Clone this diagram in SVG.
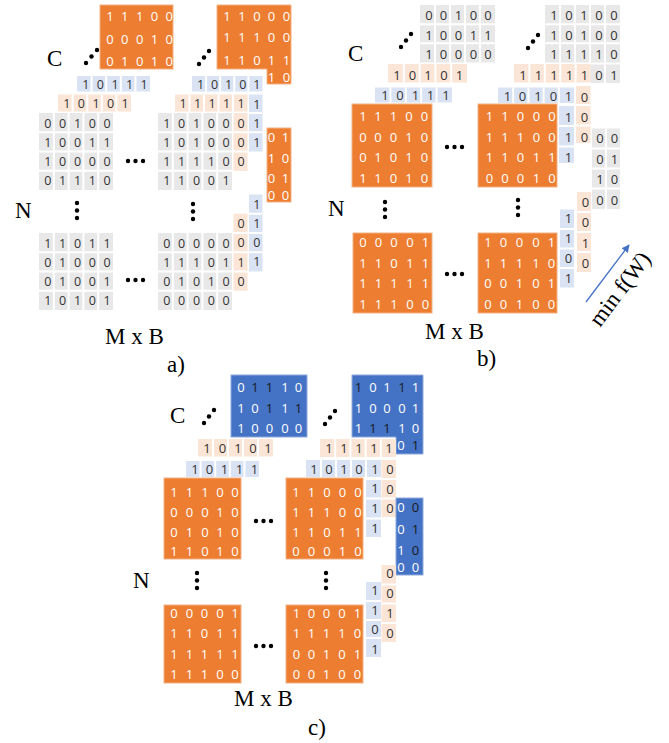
<svg xmlns="http://www.w3.org/2000/svg" width="669" height="743" viewBox="0 0 669 743">
<defs>
<style>
.g{fill:#E8E8E8}.p{fill:#FBE5D6}.b{fill:#DAE3F3}
.o{fill:#ED7D31;stroke:#F4B183;stroke-width:1}
.bl{fill:#4472C4;stroke:#8FAADC;stroke-width:1}
.gp{stroke:#fff;stroke-width:2;fill:none}
.d{font-family:"Open Sans","DejaVu Sans",sans-serif;font-size:12.5px;text-anchor:middle;fill:#333}
.d2{font-family:"Open Sans","DejaVu Sans",sans-serif;font-size:13px;text-anchor:middle;fill:#333}
.t{font-family:"Open Sans","DejaVu Sans",sans-serif;font-size:13px;text-anchor:middle;fill:#fff}
.k{fill:#1a1a1a}
.l{font-family:"Liberation Serif","Times New Roman",serif;font-size:23px;fill:#000}
.dt{fill:#000}
</style>
<marker id="ah" viewBox="0 0 10 10" refX="9" refY="5" markerWidth="6" markerHeight="6" orient="auto">
<path d="M0 0L10 5L0 10z" fill="#4472C4"/>
</marker>
</defs>
<rect width="669" height="743" fill="#fff"/>

<!-- ================= PANEL A ================= -->
<g id="a-labels">
<text class="l" x="47" y="66">C</text>
<text class="l" x="15" y="218">N</text>
<text class="l" x="105" y="344">M x B</text>
<text class="l" x="167" y="372">a)</text>
</g>
<g id="a-dots" class="dt">
<circle cx="86" cy="63" r="2.2"/><circle cx="91.5" cy="56.5" r="2.2"/><circle cx="97" cy="50" r="2.2"/>
<circle cx="199" cy="64" r="2.2"/><circle cx="204" cy="57.5" r="2.2"/><circle cx="209" cy="51" r="2.2"/>
<circle cx="128" cy="161" r="2.2"/><circle cx="135.5" cy="161" r="2.2"/><circle cx="143" cy="161" r="2.2"/>
<circle cx="128" cy="280" r="2.2"/><circle cx="135.5" cy="280" r="2.2"/><circle cx="143" cy="280" r="2.2"/>
<circle cx="77" cy="203" r="2.2"/><circle cx="77" cy="210.5" r="2.2"/><circle cx="77" cy="218" r="2.2"/>
<circle cx="193" cy="204" r="2.2"/><circle cx="193" cy="211.5" r="2.2"/><circle cx="193" cy="219" r="2.2"/>
</g>

<g id="a-orange-top1">
<rect class="o" x="100" y="5" width="73" height="64"/>
<text class="t" x="110 124.8 139.6 154.4 169.2" y="21.2">11100</text>
<text class="t" x="110 124.8 139.6 154.4 169.2" y="43.5">00010</text>
<text class="t" x="110 124.8 139.6 154.4 169.2" y="65.5">01010</text>
</g>
<g id="a-orange-top2">
<path class="o" d="M217 5H291V84H267V69H217Z"/>
<text class="t" x="227 242 257 271.5 286.5" y="20.5">11000</text>
<text class="t" x="227 242 257 271.5 286.5" y="42">11100</text>
<text class="t" x="227 242 257 271.5 286.5" y="64.5">11011</text>
<text class="t" x="271.5 286.5" y="81.5">10</text>
</g>
<g id="a-orange-right">
<rect class="o" x="267" y="128" width="24" height="74"/>
<text class="t" x="271.5 285.5" y="141.5">01</text>
<text class="t" x="271.5 285.5" y="162.5">10</text>
<text class="t" x="271.5 285.5" y="182.5">01</text>
<text class="t" x="271.5 285.5" y="200">00</text>
</g>

<g id="a-blue1">
<rect class="b" x="77" y="76" width="73" height="15.5"/>
<path class="gp" d="M91.6 76v15.5M106.2 76v15.5M120.8 76v15.5M135.4 76v15.5"/>
<text class="d" x="85.8 100.4 115 129.6 144.2" y="88.5">10111</text>
</g>
<g id="a-pink1">
<rect class="p" x="58" y="94.5" width="73" height="17"/>
<path class="gp" d="M72.6 94.5v17M87.2 94.5v17M101.8 94.5v17M116.4 94.5v17"/>
<text class="d" x="66.8 81.4 96 110.6 125.2" y="107.5">10101</text>
</g>
<g id="a-gray1">
<rect class="g" x="39" y="113" width="74" height="77"/>
<path class="gp" d="M53.8 113V190M68.6 113V190M83.4 113V190M98.2 113V190M39 132.25H113M39 151.5H113M39 170.75H113"/>
<text class="d" x="47.9 62.7 77.5 92.3 107.1" y="127.5">00100</text>
<text class="d" x="47.9 62.7 77.5 92.3 107.1" y="146.5">10011</text>
<text class="d" x="47.9 62.7 77.5 92.3 107.1" y="166">10000</text>
<text class="d" x="47.9 62.7 77.5 92.3 107.1" y="185">01110</text>
</g>

<g id="a-blue2">
<rect class="b" x="192" y="76" width="70.5" height="15.5"/>
<path class="gp" d="M206.1 76v15.5M220.2 76v15.5M234.3 76v15.5M248.4 76v15.5"/>
<rect class="b" x="249" y="94.5" width="13.5" height="57"/>
<path class="gp" d="M249 113h13.5M249 132.25h13.5"/>
<text class="d" x="200.5 214.6 228.7 242.8 256.9" y="88.5">10101</text>
<text class="d" x="256.9" y="109">1</text>
<text class="d" x="256.9" y="128">1</text>
<text class="d" x="256.9" y="147">1</text>
</g>
<g id="a-pink2">
<rect class="p" x="175" y="94.5" width="72.5" height="17"/>
<path class="gp" d="M189.5 94.5v17M204 94.5v17M218.5 94.5v17M233 94.5v17"/>
<rect class="p" x="233.5" y="113" width="14" height="58"/>
<path class="gp" d="M233.5 132.25h14M233.5 151.5h14"/>
<text class="d" x="183 197.5 212 226.5 241" y="107.5">11111</text>
<text class="d" x="241" y="127.5">0</text>
<text class="d" x="241" y="146.5">0</text>
<text class="d" x="241" y="166">0</text>
</g>
<g id="a-gray2">
<rect class="g" x="158" y="113" width="74" height="77"/>
<path class="gp" d="M172.8 113V190M187.6 113V190M202.4 113V190M217.2 113V190M158 132.25H232M158 151.5H232M158 170.75H232"/>
<text class="d" x="166.9 181.7 196.5 211.3 226.1" y="127.5">10100</text>
<text class="d" x="166.9 181.7 196.5 211.3 226.1" y="146.5">10100</text>
<text class="d" x="166.9 181.7 196.5 211.3 226.1" y="166">11110</text>
<text class="d" x="166.9 181.7 196.5 211.3 226.1" y="185">11001</text>
</g>

<g id="a-gray3">
<rect class="g" x="39" y="233" width="74" height="77"/>
<path class="gp" d="M53.8 233V310M68.6 233V310M83.4 233V310M98.2 233V310M39 252.25H113M39 271.5H113M39 290.75H113"/>
<text class="d" x="47.9 62.7 77.5 92.3 107.1" y="247.5">11011</text>
<text class="d" x="47.9 62.7 77.5 92.3 107.1" y="266.5">01000</text>
<text class="d" x="47.9 62.7 77.5 92.3 107.1" y="286">01001</text>
<text class="d" x="47.9 62.7 77.5 92.3 107.1" y="305">10101</text>
</g>
<g id="a-blue4">
<rect class="b" x="249" y="194.5" width="13.5" height="77"/>
<path class="gp" d="M249 213.75h13.5M249 233h13.5M249 252.25h13.5"/>
<text class="d" x="256.9" y="208.5">1</text>
<text class="d" x="256.9" y="227.5">1</text>
<text class="d" x="256.9" y="246.5">0</text>
<text class="d" x="256.9" y="265.5">1</text>
</g>
<g id="a-pink4">
<rect class="p" x="233.5" y="213.75" width="14" height="77"/>
<path class="gp" d="M233.5 233h14M233.5 252.25h14M233.5 271.5h14"/>
<text class="d" x="241" y="227.5">0</text>
<text class="d" x="241" y="247">0</text>
<text class="d" x="241" y="266.5">1</text>
<text class="d" x="241" y="286">0</text>
</g>
<g id="a-gray4">
<rect class="g" x="158" y="233" width="74" height="77"/>
<path class="gp" d="M172.8 233V310M187.6 233V310M202.4 233V310M217.2 233V310M158 252.25H232M158 271.5H232M158 290.75H232"/>
<text class="d" x="166.9 181.7 196.5 211.3 226.1" y="247.5">00000</text>
<text class="d" x="166.9 181.7 196.5 211.3 226.1" y="266.5">11101</text>
<text class="d" x="166.9 181.7 196.5 211.3 226.1" y="286">01010</text>
<text class="d" x="166.9 181.7 196.5 211.3 226.1" y="305">00000</text>
</g>

<!-- ================= PANEL B ================= -->
<g id="b-labels">
<text class="l" x="348" y="61">C</text>
<text class="l" x="328" y="216">N</text>
<text class="l" x="425" y="339">M x B</text>
<text class="l" x="477" y="366">b)</text>
<text class="l" font-size="25" transform="translate(600 328) rotate(-53)">min f(W)</text>
</g>
<g id="b-dots" class="dt">
<circle cx="401" cy="47" r="2.2"/><circle cx="406" cy="40.5" r="2.2"/><circle cx="411" cy="34" r="2.2"/>
<circle cx="528" cy="48" r="2.2"/><circle cx="533" cy="41.5" r="2.2"/><circle cx="538" cy="35" r="2.2"/>
<circle cx="447" cy="147" r="2.2"/><circle cx="454.5" cy="147" r="2.2"/><circle cx="462" cy="147" r="2.2"/>
<circle cx="447" cy="274" r="2.2"/><circle cx="454.5" cy="274" r="2.2"/><circle cx="462" cy="274" r="2.2"/>
<circle cx="385" cy="202" r="2.2"/><circle cx="385" cy="209.5" r="2.2"/><circle cx="385" cy="217" r="2.2"/>
<circle cx="518" cy="200" r="2.2"/><circle cx="518" cy="207.5" r="2.2"/><circle cx="518" cy="215" r="2.2"/>
</g>

<g id="b-gray-top1">
<rect class="g" x="420" y="5" width="75" height="57.5"/>
<path class="gp" d="M435 5v57.5M450 5v57.5M465 5v57.5M480 5v57.5M420 24.2h75M420 43.3h75"/>
<text class="d2" x="429 443.5 458.5 473.5 488" y="20">00100</text>
<text class="d2" x="429 443.5 458.5 473.5 488" y="39.5">10011</text>
<text class="d2" x="429 443.5 458.5 473.5 488" y="58.5">10000</text>
</g>
<g id="b-pink1">
<rect class="p" x="388" y="64" width="79" height="18.5"/>
<path class="gp" d="M403.8 64v18.5M419.6 64v18.5M435.4 64v18.5M451.2 64v18.5"/>
<text class="d2" x="397 412.5 428 444 459.5" y="80">10101</text>
</g>
<g id="b-blue1">
<rect class="b" x="375" y="87.5" width="77" height="15"/>
<path class="gp" d="M390.4 87.5v15M405.8 87.5v15M421.2 87.5v15M436.6 87.5v15"/>
<text class="d2" x="385 400 415.5 430.5 446" y="100">10111</text>
</g>
<g id="b-orange1">
<rect class="o" x="352" y="104" width="80" height="83"/>
<text class="t" x="363 378 393.5 409 424.5" y="121">11100</text>
<text class="t" x="363 378 393.5 409 424.5" y="141.5">00010</text>
<text class="t" x="363 378 393.5 409 424.5" y="162">01010</text>
<text class="t" x="363 378 393.5 409 424.5" y="183">11010</text>
</g>

<g id="b-gray-top2">
<rect class="g" x="545" y="5" width="75" height="57.5"/>
<path class="gp" d="M560 5v57.5M575 5v57.5M590 5v57.5M605 5v57.5M545 24.2h75M545 43.3h75"/>
<rect class="g" x="590.5" y="64.5" width="29.5" height="18.5"/>
<path class="gp" d="M605 64.5v18.5"/>
<text class="d2" x="554 569 584 599 614" y="20">10100</text>
<text class="d2" x="554 569 584 599 614" y="39.5">10100</text>
<text class="d2" x="554 569 584 599 614" y="58.5">11110</text>
<text class="d2" x="599 614" y="79.5">01</text>
</g>
<g id="b-pink2">
<rect class="p" x="514" y="64" width="76.5" height="18.5"/>
<path class="gp" d="M529.4 64v18.5M544.8 64v18.5M560.2 64v18.5M575.6 64v18.5"/>
<rect class="p" x="576" y="86" width="14.5" height="57"/>
<path class="gp" d="M576 105h14.5M576 125.5h14.5"/>
<text class="d2" x="523 538.5 554 569.5 584.5" y="79.5">11111</text>
<text class="d2" x="584.5" y="101.5">0</text>
<text class="d2" x="584.5" y="121.5">0</text>
<text class="d2" x="584.5" y="141.5">0</text>
</g>
<g id="b-blue2">
<rect class="b" x="498" y="87.5" width="76" height="15.5"/>
<path class="gp" d="M513.2 87.5v15.5M528.4 87.5v15.5M543.6 87.5v15.5M558.8 87.5v15.5"/>
<rect class="b" x="559" y="106" width="15" height="57"/>
<path class="gp" d="M559 126h15M559 146.5h15"/>
<text class="d2" x="507.5 522.5 538 553.5 568.5" y="101">10101</text>
<text class="d2" x="568.5" y="121.5">1</text>
<text class="d2" x="568.5" y="141.5">1</text>
<text class="d2" x="568.5" y="161.5">1</text>
</g>
<g id="b-orange2">
<rect class="o" x="478" y="104" width="79" height="83"/>
<text class="t" x="489.5 505 520.5 536.5 552" y="121">11000</text>
<text class="t" x="489.5 505 520.5 536.5 552" y="141.5">11100</text>
<text class="t" x="489.5 505 520.5 536.5 552" y="162">11011</text>
<text class="t" x="489.5 505 520.5 536.5 552" y="183">00010</text>
</g>

<g id="b-gray-right">
<rect class="g" x="592" y="128.5" width="28" height="80.5"/>
<path class="gp" d="M606 128.5v80.5M592 148.5h28M592 168.5h28M592 188.5h28"/>
<text class="d2" x="600 614.5" y="143">00</text>
<text class="d2" x="600 614.5" y="163.5">01</text>
<text class="d2" x="600 614.5" y="184">10</text>
<text class="d2" x="600 614.5" y="205">00</text>
</g>
<g id="b-pink4">
<rect class="p" x="577" y="192" width="14" height="80"/>
<path class="gp" d="M577 212h14M577 232h14M577 252h14"/>
<text class="d2" x="585.5" y="206.5">0</text>
<text class="d2" x="585.5" y="226.5">0</text>
<text class="d2" x="585.5" y="247.5">1</text>
<text class="d2" x="585.5" y="267.5">0</text>
</g>
<g id="b-blue4">
<rect class="b" x="560" y="209.5" width="14" height="78"/>
<path class="gp" d="M560 229h14M560 248.5h14M560 268h14"/>
<text class="d2" x="568.5" y="222.5">1</text>
<text class="d2" x="568.5" y="242.5">1</text>
<text class="d2" x="568.5" y="262.5">0</text>
<text class="d2" x="568.5" y="283">1</text>
</g>
<g id="b-orange3">
<rect class="o" x="353" y="233" width="79" height="80"/>
<text class="t" x="363 378.5 394 410 425.5" y="247">00001</text>
<text class="t" x="363 378.5 394 410 425.5" y="267.5">11011</text>
<text class="t" x="363 378.5 394 410 425.5" y="288">11111</text>
<text class="t" x="363 378.5 394 410 425.5" y="308.5">11100</text>
</g>
<g id="b-orange4">
<rect class="o" x="478" y="233" width="79" height="80"/>
<text class="t" x="488 503.5 519.5 536 551.5" y="247">10001</text>
<text class="t" x="488 503.5 519.5 536 551.5" y="267.5">11110</text>
<text class="t" x="488 503.5 519.5 536 551.5" y="288">00101</text>
<text class="t" x="488 503.5 519.5 536 551.5" y="308.5">00100</text>
</g>

<!-- ================= PANEL C ================= -->
<g id="c-labels">
<text class="l" x="170" y="423">C</text>
<text class="l" x="133" y="588">N</text>
<text class="l" x="234" y="706">M x B</text>
<text class="l" x="308" y="735">c)</text>
</g>
<g id="c-dots" class="dt">
<circle cx="204" cy="423" r="2.2"/><circle cx="209" cy="416.5" r="2.2"/><circle cx="214" cy="410" r="2.2"/>
<circle cx="325" cy="424" r="2.2"/><circle cx="330" cy="417.5" r="2.2"/><circle cx="335" cy="411" r="2.2"/>
<circle cx="256" cy="521" r="2.2"/><circle cx="263.5" cy="521" r="2.2"/><circle cx="271" cy="521" r="2.2"/>
<circle cx="256" cy="646" r="2.2"/><circle cx="263.5" cy="646" r="2.2"/><circle cx="271" cy="646" r="2.2"/>
<circle cx="197" cy="573" r="2.2"/><circle cx="197" cy="580.5" r="2.2"/><circle cx="197" cy="588" r="2.2"/>
<circle cx="326" cy="573" r="2.2"/><circle cx="326" cy="580.5" r="2.2"/><circle cx="326" cy="588" r="2.2"/>
</g>

<g id="c-blue-top1">
<rect class="bl" x="231" y="375" width="76" height="62"/>
<text class="t" y="391.5"><tspan x="241">0</tspan><tspan class="k" x="255">1</tspan><tspan class="k" x="269.5">1</tspan><tspan x="285">1</tspan><tspan x="298.5">0</tspan></text>
<text class="t" y="412.5"><tspan x="241">1</tspan><tspan x="255">0</tspan><tspan class="k" x="269.5">1</tspan><tspan x="285">1</tspan><tspan class="k" x="298.5">1</tspan></text>
<text class="t" x="241 255 269.5 285 298.5" y="432.5">10000</text>
</g>
<g id="c-pink1">
<rect class="p" x="198" y="439" width="75" height="17.5"/>
<path class="gp" d="M213 439v17.5M228 439v17.5M243 439v17.5M258 439v17.5"/>
<text class="d2" x="207 222.5 238 253 268" y="453">10101</text>
</g>
<g id="c-blue1">
<rect class="b" x="186" y="461" width="73" height="16"/>
<path class="gp" d="M200.6 461v16M215.2 461v16M229.8 461v16M244.4 461v16"/>
<text class="d2" x="195 209.5 224.5 239.5 254.5" y="474">10111</text>
</g>
<g id="c-orange1">
<rect class="o" x="164" y="478" width="77" height="81"/>
<text class="t" x="174 189.5 205 220 235" y="496.5">11100</text>
<text class="t" x="174 189.5 205 220 235" y="516.5">00010</text>
<text class="t" x="174 189.5 205 220 235" y="536.5">01010</text>
<text class="t" x="174 189.5 205 220 235" y="556">11010</text>
</g>

<g id="c-blue-top2">
<path class="bl" d="M352 375H423V454H396V437H352Z"/>
<text class="t" y="391.5"><tspan class="k" x="358.5">1</tspan><tspan x="373">0</tspan><tspan x="387">1</tspan><tspan class="k" x="402">1</tspan><tspan x="415.5">1</tspan></text>
<text class="t" x="358.5 373 387 402 415.5" y="412.5">10001</text>
<text class="t" y="432.5"><tspan x="358.5">1</tspan><tspan class="k" x="373">1</tspan><tspan class="k" x="387">1</tspan><tspan x="402">1</tspan><tspan x="415.5">0</tspan></text>
<text class="t" y="449.5"><tspan x="401">0</tspan><tspan class="k" x="415.5">1</tspan></text>
</g>
<g id="c-pink2">
<rect class="p" x="320" y="439" width="76" height="18"/>
<path class="gp" d="M335.2 439v18M350.4 439v18M365.6 439v18M380.8 439v18"/>
<rect class="p" x="381.5" y="460" width="14.5" height="57"/>
<path class="gp" d="M381.5 479h14.5M381.5 498.5h14.5"/>
<text class="d2" x="329 344 359 374 389" y="453">11111</text>
<text class="d2" x="390" y="474">0</text>
<text class="d2" x="390" y="494">0</text>
<text class="d2" x="390" y="513">0</text>
</g>
<g id="c-blue2">
<rect class="b" x="306" y="460" width="75" height="17"/>
<path class="gp" d="M321 460v17M336 460v17M351 460v17M366 460v17"/>
<rect class="b" x="366" y="480" width="15" height="57"/>
<path class="gp" d="M366 498.5h15M366 518.5h15"/>
<text class="d2" x="314 329 344 359 375" y="474">10101</text>
<text class="d2" x="375" y="492.5">1</text>
<text class="d2" x="375" y="512.5">1</text>
<text class="d2" x="375" y="533">1</text>
</g>
<g id="c-orange2">
<rect class="o" x="286" y="478" width="77" height="81"/>
<text class="t" x="296 311.5 327 342.5 358" y="496.5">11000</text>
<text class="t" x="296 311.5 327 342.5 358" y="516.5">11100</text>
<text class="t" x="296 311.5 327 342.5 358" y="536.5">11011</text>
<text class="t" x="296 311.5 327 342.5 358" y="556">00010</text>
</g>
<g id="c-blue-right">
<rect class="bl" x="396" y="498" width="27" height="77"/>
<text class="t" y="511.5"><tspan x="401">0</tspan><tspan class="k" x="415.5">0</tspan></text>
<text class="t" y="533.5"><tspan x="401">0</tspan><tspan class="k" x="415.5">1</tspan></text>
<text class="t" y="554.5"><tspan x="401">1</tspan><tspan class="k" x="415.5">0</tspan></text>
<text class="t" x="401 415.5" y="572">00</text>
</g>

<g id="c-pink4">
<rect class="p" x="381.5" y="565" width="14.5" height="77"/>
<path class="gp" d="M381.5 584.5h14.5M381.5 603.5h14.5M381.5 623h14.5"/>
<text class="d2" x="390" y="577.5">0</text>
<text class="d2" x="390" y="597.5">0</text>
<text class="d2" x="390" y="618">1</text>
<text class="d2" x="390" y="637.5">0</text>
</g>
<g id="c-blue4">
<rect class="b" x="366" y="582" width="15" height="75"/>
<path class="gp" d="M366 601h15M366 620h15M366 638h15"/>
<text class="d2" x="375" y="594.5">1</text>
<text class="d2" x="375" y="614.5">1</text>
<text class="d2" x="375" y="633.5">0</text>
<text class="d2" x="375" y="654">1</text>
</g>
<g id="c-orange3">
<rect class="o" x="164" y="605" width="77" height="78"/>
<text class="t" x="174 189.5 204.5 220 235" y="618">00001</text>
<text class="t" x="174 189.5 204.5 220 235" y="638">11011</text>
<text class="t" x="174 189.5 204.5 220 235" y="659">11111</text>
<text class="t" x="174 189.5 204.5 220 235" y="679">11100</text>
</g>
<g id="c-orange4">
<rect class="o" x="286" y="605" width="77" height="78"/>
<text class="t" x="296.5 311.5 326.5 342 357.5" y="618">10001</text>
<text class="t" x="296.5 311.5 326.5 342 357.5" y="638">11110</text>
<text class="t" x="296.5 311.5 326.5 342 357.5" y="659">00101</text>
<text class="t" x="296.5 311.5 326.5 342 357.5" y="679">00100</text>
</g>

<g id="connectors">
<line x1="586" y1="302" x2="629" y2="245" stroke="#4472C4" stroke-width="1.3" marker-end="url(#ah)"/>
</g>
</svg>
